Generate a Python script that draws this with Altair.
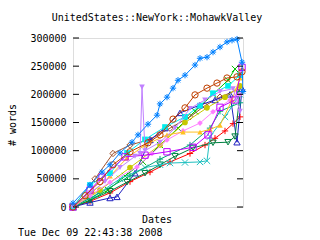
import altair as alt
import pandas as pd

title_text = "UnitedStates::NewYork::MohawkValley"
x_title = "Dates"
y_title = "# words"
stamp = "Tue Dec 09 22:43:38 2008"
y_ticks = [0, 50000, 100000, 150000, 200000, 250000, 300000]

# series: x = day index (0..170), y = # words
red_x = [0, 17, 37, 57, 77, 97, 117, 132, 142, 152, 160, 167]
red_y = [0, 10000, 25000, 45000, 62000, 80000, 95000, 110000, 122000, 135000, 148000, 160000]
green_x = [0, 17, 35, 52, 70, 87, 105, 122, 140, 155, 162]
green_y = [0, 12000, 30000, 55000, 80000, 110000, 140000, 170000, 200000, 225000, 245000]
blue_x = [0, 17, 29, 37, 47, 59, 65, 75, 84, 87, 94, 100, 105, 112, 122, 127, 134, 140, 147, 154, 159, 164, 169, 170]
blue_y = [7000, 39000, 62000, 75000, 96000, 115000, 128000, 147000, 163000, 183000, 195000, 211000, 225000,
          234000, 252000, 264000, 266000, 275000, 284000, 293000, 296000, 298000, 257000, 205000]
mag_x = [0, 17, 29, 52, 72, 94, 120, 135, 147, 162, 169]
mag_y = [0, 30000, 53000, 89000, 92000, 98000, 106000, 128000, 177000, 190000, 248000]
cyan_x = [0, 17, 37, 54, 72, 92, 112, 127, 140, 155, 167]
cyan_y = [0, 39000, 60000, 96000, 120000, 142000, 160000, 180000, 202000, 215000, 234000]
brown_x = [0, 12, 27, 40, 57, 75, 87, 100, 112, 122, 134, 144, 154, 164, 169]
brown_y = [0, 20000, 45000, 75000, 98000, 114000, 128000, 156000, 176000, 199000, 211000, 220000, 229000, 231000, 240000]
yellow_x = [0, 27, 57, 87, 112, 134, 152, 167]
yellow_y = [0, 30000, 70000, 110000, 150000, 176000, 195000, 215000]
navy_x = [0, 17, 37, 44, 62, 77, 92, 107, 127, 142, 157, 164, 169]
navy_y = [0, 8000, 16000, 18000, 60000, 119000, 140000, 167000, 181000, 190000, 200000, 115000, 210000]
gold_x = [0, 20, 37, 54, 72, 94, 110, 127, 137, 147, 159, 167]
gold_y = [0, 27000, 55000, 87000, 110000, 128000, 133000, 133000, 138000, 145000, 190000, 229000]
dgreen_x = [0, 17, 37, 54, 72, 87, 102, 120, 140, 155, 162, 167]
dgreen_y = [0, 12000, 28000, 44000, 60000, 75000, 90000, 105000, 114000, 115000, 125000, 200000]
lav_x = [0, 17, 32, 47, 62, 67, 69, 72, 87, 102, 117, 132, 147, 160, 167]
lav_y = [0, 25000, 45000, 70000, 90000, 95000, 213000, 100000, 115000, 140000, 175000, 190000, 205000, 210000, 170000]
teal_x = [0, 22, 47, 72, 87, 97, 112, 127, 134, 137, 152, 167]
teal_y = [0, 20000, 50000, 70000, 75000, 78000, 79000, 80000, 82000, 125000, 160000, 200000]
pink_x = [0, 17, 37, 64, 79, 94, 110, 127, 140, 157, 167]
pink_y = [0, 20000, 44000, 71000, 95000, 119000, 135000, 149000, 169000, 190000, 200000]
sienna_x = [0, 22, 40, 57, 77, 97, 117, 132, 147, 167]
sienna_y = [0, 50000, 95000, 110000, 120000, 140000, 160000, 180000, 195000, 210000]
aqua_x = [0, 27, 57, 87, 117, 137, 147, 167]
aqua_y = [0, 25000, 55000, 85000, 110000, 140000, 170000, 185000]

PLUS = "M-1,0L1,0M0,-1L0,1"
XSH = "M-1,-1L1,1M-1,1L1,-1"
STAR = "M-1,0L1,0M0,-1L0,1M-0.7,-0.7L0.7,0.7M-0.7,0.7L0.7,-0.7"

series = [
    ("red", red_x, red_y, "#ff0000", PLUS, False),
    ("green", green_x, green_y, "#00c000", XSH, False),
    ("sienna", sienna_x, sienna_y, "#a0522d", "diamond", False),
    ("navy", navy_x, navy_y, "#2020c0", "triangle-up", False),
    ("dgreen", dgreen_x, dgreen_y, "#008040", "triangle-down", False),
    ("teal", teal_x, teal_y, "#20c0c0", XSH, False),
    ("aqua", aqua_x, aqua_y, "#00a878", PLUS, False),
    ("yellow", yellow_x, yellow_y, "#c8c800", "circle", True),
    ("pink", pink_x, pink_y, "#ff80ff", "diamond", True),
    ("gold", gold_x, gold_y, "#ffc020", "triangle-up", True),
    ("cyan", cyan_x, cyan_y, "#00eeee", "square", True),
    ("mag", mag_x, mag_y, "#c000ff", "square", False),
    ("lav", lav_x, lav_y, "#c080ff", "triangle-down", True),
    ("brown", brown_x, brown_y, "#c04000", "circle", False),
    ("blue", blue_x, blue_y, "#0080ff", STAR, False),
]

xs = alt.Scale(domain=[0, 170], nice=False, zero=False)
ys = alt.Scale(domain=[0, 300000], nice=False)
yax = alt.Axis(values=y_ticks, format="d", tickSize=0, domain=False, ticks=False,
               grid=False, labelPadding=7, title=None,
               labelFont="DejaVu Sans Mono", labelFontSize=10, labelColor="black")

layers = []
for name, sx, sy, col, shp, filled in series:
    df = pd.DataFrame({"x": sx, "y": sy})
    base = alt.Chart(df).encode(
        x=alt.X("x:Q", scale=xs, axis=None),
        y=alt.Y("y:Q", scale=ys, axis=yax),
    )
    layers.append(base.mark_line(color=col, strokeWidth=1, clip=True))
    if filled:
        layers.append(base.mark_point(shape=shp, filled=True, color=col, size=32, opacity=1))
    else:
        layers.append(base.mark_point(shape=shp, filled=False, color=col, size=40, strokeWidth=1, opacity=1))

tick_df = pd.DataFrame({"v": y_ticks})
layers.append(alt.Chart(tick_df).mark_rule(color="black").encode(
    y=alt.Y("v:Q", scale=ys, axis=yax), x=alt.value(0), x2=alt.value(6)))
layers.append(alt.Chart(tick_df).mark_rule(color="black").encode(
    y=alt.Y("v:Q", scale=ys, axis=yax), x=alt.value(164), x2=alt.value(170)))

def txt(s, x, y, align="center", angle=0):
    return alt.Chart(pd.DataFrame({"t": [s]})).mark_text(
        font="DejaVu Sans Mono", fontSize=10, color="black", align=align, baseline="middle", angle=angle
    ).encode(text="t:N", x=alt.value(x), y=alt.value(y))

layers += [
    txt(title_text, 84, -20),
    txt(x_title, 84, 182),
    txt(stamp, -55, 195, align="left"),
    txt(y_title, -60, 87, angle=270),
]

chart = alt.layer(*layers).properties(
    width=170, height=169,
    padding={"left": 73, "top": 38, "right": 77, "bottom": 33},
    autosize="none",
).configure_view(stroke="black", strokeWidth=1).configure(background="white")

chart.save("out.html", embed_options={"renderer": "svg", "actions": False})
